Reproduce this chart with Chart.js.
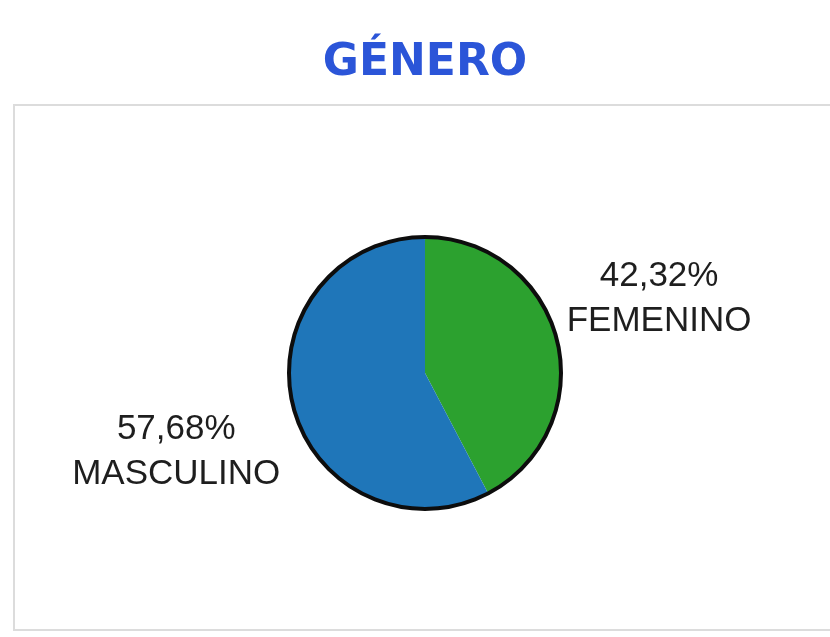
<!DOCTYPE html>
<html>
<head>
<meta charset="utf-8">
<script src="https://cdn.jsdelivr.net/npm/chart.js@4/dist/chart.umd.min.js"></script>
<style>
  html, body { margin: 0; padding: 0; background: #fff; }
  body { width: 830px; height: 637px; position: relative; overflow: hidden; }
  #frame { position: absolute; left: 13px; top: 104px; width: 830px; height: 527px; border: 2px solid #dcdcdc; box-sizing: border-box; }
  #wrap { position: absolute; left: 0; top: 0; width: 830px; height: 637px; }
</style>
</head>
<body>
<div id="frame"></div>
<div id="wrap"><canvas id="c" width="830" height="637"></canvas></div>
<script>
const chartTitle = 'GÉNERO';
const categories = ['FEMENINO', 'MASCULINO'];
const values = [42.32, 57.68];
const sliceColors = ['#2ca12f', '#1f76b9'];

function fmtPct(v) { return v.toFixed(2).replace('.', ',') + '%'; }

const outlinePlugin = {
  id: 'outline',
  afterDatasetsDraw(chart) {
    const meta = chart.getDatasetMeta(0);
    const arc = meta.data[0];
    if (!arc) return;
    const ctx = chart.ctx;
    ctx.save();
    ctx.beginPath();
    ctx.arc(arc.x, arc.y, arc.outerRadius, 0, Math.PI * 2);
    ctx.lineWidth = 4;
    ctx.strokeStyle = '#0d0d0d';
    ctx.stroke();
    ctx.restore();
  }
};

const labelPlugin = {
  id: 'outLabels',
  afterDraw(chart) {
    const meta = chart.getDatasetMeta(0);
    const ctx = chart.ctx;
    ctx.save();
    ctx.font = '35px "Liberation Sans", Arial, sans-serif';
    ctx.fillStyle = '#1e1e1e';
    ctx.textAlign = 'center';
    ctx.textBaseline = 'middle';
    const lineH = 45;
    meta.data.forEach((arc, i) => {
      const mid = (arc.startAngle + arc.endAngle) / 2;
      const r = arc.outerRadius + 12;
      const ax = arc.x + Math.cos(mid) * r;
      const ay = arc.y + Math.sin(mid) * r;
      const lines = [fmtPct(values[i]), categories[i]];
      const w = Math.max(...lines.map(t => ctx.measureText(t).width));
      const h = lineH * lines.length;
      const right = Math.cos(mid) >= 0;
      const below = Math.sin(mid) > 0;
      const cx = right ? ax + w / 2 - 2 : ax - w / 2 - 1;
      const top = below ? ay - 1 : ay - h + 6;
      lines.forEach((t, k) => ctx.fillText(t, cx, top + lineH * (k + 0.5)));
    });
    ctx.restore();
  }
};

new Chart(document.getElementById('c'), {
  type: 'pie',
  data: {
    labels: categories,
    datasets: [{
      data: values,
      backgroundColor: sliceColors,
      borderWidth: 0
    }]
  },
  options: {
    responsive: false,
    animation: false,
    radius: 136,
    layout: { padding: { left: 50, right: 30, top: 0, bottom: 0 } },
    plugins: {
      legend: { display: false },
      tooltip: { enabled: false },
      title: {
        display: true,
        text: chartTitle,
        color: '#2b55d8',
        font: { family: '"DejaVu Sans", sans-serif', size: 44, weight: 'bold' },
        padding: { top: 37, bottom: 19 }
      }
    }
  },
  plugins: [outlinePlugin, labelPlugin]
});
</script>
</body>
</html>
